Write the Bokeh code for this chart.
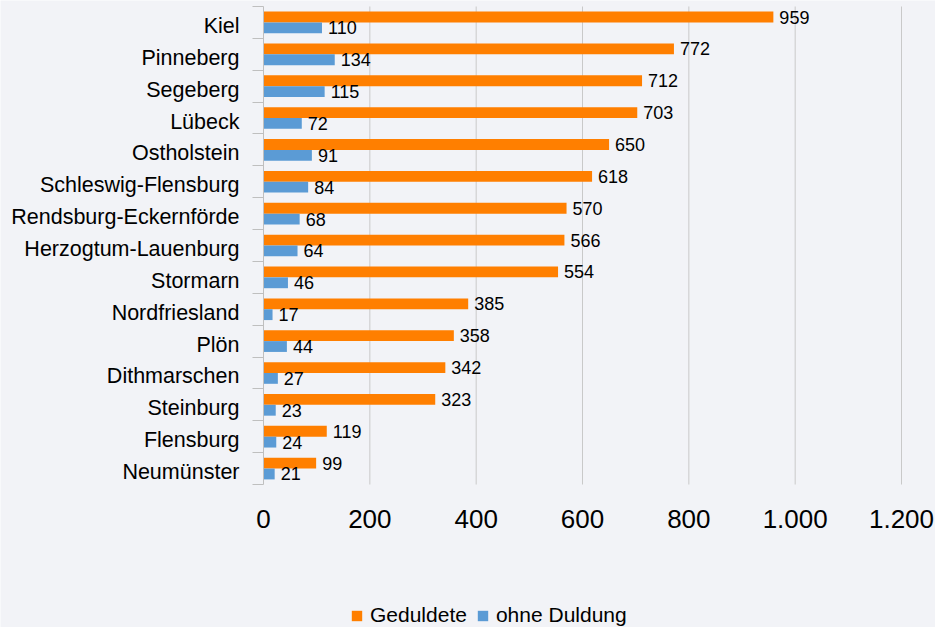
from bokeh.plotting import figure
from bokeh.models import FixedTicker, Legend, LegendItem, ColumnDataSource
from bokeh.core.properties import value
from bokeh.embed import file_html
from bokeh.resources import INLINE

# ---- data ----
regions = ["Kiel", "Pinneberg", "Segeberg", "Lübeck", "Ostholstein", "Schleswig-Flensburg",
           "Rendsburg-Eckernförde", "Herzogtum-Lauenburg", "Stormarn", "Nordfriesland", "Plön",
           "Dithmarschen", "Steinburg", "Flensburg", "Neumünster"]
geduldete = [959, 772, 712, 703, 650, 618, 570, 566, 554, 385, 358, 342, 323, 119, 99]
ohne_duldung = [110, 134, 115, 72, 91, 84, 68, 64, 46, 17, 44, 27, 23, 24, 21]
series_names = ["Geduldete", "ohne Duldung"]
x_ticks = [0, 200, 400, 600, 800, 1000, 1200]
x_tick_labels = ["0", "200", "400", "600", "800", "1.000", "1.200"]

ORANGE = "#FF7F00"
BLUE = "#5B9BD5"
BG = "#F2F3F7"
FONT = "Liberation Sans"

n = len(regions)
ypos = [n - 0.5 - i for i in range(n)]
label_pos = [y - 0.11 for y in ypos]
off = 0.17

# the frame spans the whole canvas; the ranges leave room for labels and legend
x_range = (-494.67, 1263.95)
y_range = (-4.487, 15.188)

src = ColumnDataSource(dict(
    y_top=[y + off for y in ypos],
    y_bot=[y - off for y in ypos],
    g=geduldete, o=ohne_duldung,
    gl=[str(v) for v in geduldete], ol=[str(v) for v in ohne_duldung],
))
grid_src = ColumnDataSource(dict(x=x_ticks[1:], y0=[0] * (len(x_ticks) - 1), y1=[n] * (len(x_ticks) - 1)))

p = figure(width=935, height=627, output_backend="svg", toolbar_location=None,
           x_range=x_range, y_range=y_range,
           min_border_left=0, min_border_right=0, min_border_top=0, min_border_bottom=0)
p.background_fill_color = BG
p.border_fill_color = BG
p.outline_line_color = None
p.xgrid.grid_line_color = None
p.ygrid.grid_line_color = None

# vertical grid lines, only over the bar area
p.segment(x0="x", y0="y0", x1="x", y1="y1", source=grid_src, line_color="#C9C9C9", line_width=1)

r1 = p.hbar(y="y_top", left=0, right="g", height=0.34, source=src, fill_color=ORANGE, line_color=None)
r2 = p.hbar(y="y_bot", left=0, right="o", height=0.34, source=src, fill_color=BLUE, line_color=None)

p.text(x="g", y="y_top", text="gl", source=src, x_offset=6, text_align="left", text_baseline="middle",
       text_font=value(FONT), text_font_size="18px", text_color="#000000")
p.text(x="o", y="y_bot", text="ol", source=src, x_offset=6, text_align="left", text_baseline="middle",
       text_font=value(FONT), text_font_size="18px", text_color="#000000")

# x axis, pinned to y = 0
p.xaxis.fixed_location = 0
p.xaxis.ticker = FixedTicker(ticks=x_ticks)
p.xaxis.major_label_overrides = {t: l for t, l in zip(x_ticks, x_tick_labels)}
p.xaxis.axis_line_color = None
p.xaxis.major_tick_line_color = None
p.xaxis.minor_tick_line_color = None
p.xaxis.major_tick_out = 0
p.xaxis.major_label_standoff = 25
p.xaxis.major_label_text_font = FONT
p.xaxis.major_label_text_font_size = "26px"
p.xaxis.major_label_text_color = "#000000"

# y axis, pinned to x = 0
p.yaxis.fixed_location = 0
p.yaxis.bounds = (0, n)
p.yaxis.ticker = FixedTicker(ticks=label_pos, minor_ticks=list(range(0, n + 1)))
p.yaxis.major_label_overrides = {y: r for y, r in zip(label_pos, regions)}
p.yaxis.axis_line_color = "#BFBFBF"
p.yaxis.major_tick_line_color = None
p.yaxis.major_tick_out = 0
p.yaxis.major_tick_in = 0
p.yaxis.minor_tick_line_color = "#BFBFBF"
p.yaxis.minor_tick_out = 11
p.yaxis.minor_tick_in = 0
p.yaxis.major_label_standoff = 13
p.yaxis.major_label_text_font = FONT
p.yaxis.major_label_text_font_size = "21.5px"
p.yaxis.major_label_text_color = "#000000"

legend = Legend(items=[LegendItem(label=series_names[0], renderers=[r1]),
                       LegendItem(label=series_names[1], renderers=[r2])],
                orientation="horizontal", location=(350, 0),
                glyph_width=13, glyph_height=13, label_standoff=7, spacing=9,
                padding=0, margin=0, border_line_color=None, background_fill_alpha=0,
                label_text_font=FONT, label_text_font_size="21px", label_text_color="#000000")
p.add_layout(legend, "center")

open("out.html", "w").write(file_html(p, INLINE))
